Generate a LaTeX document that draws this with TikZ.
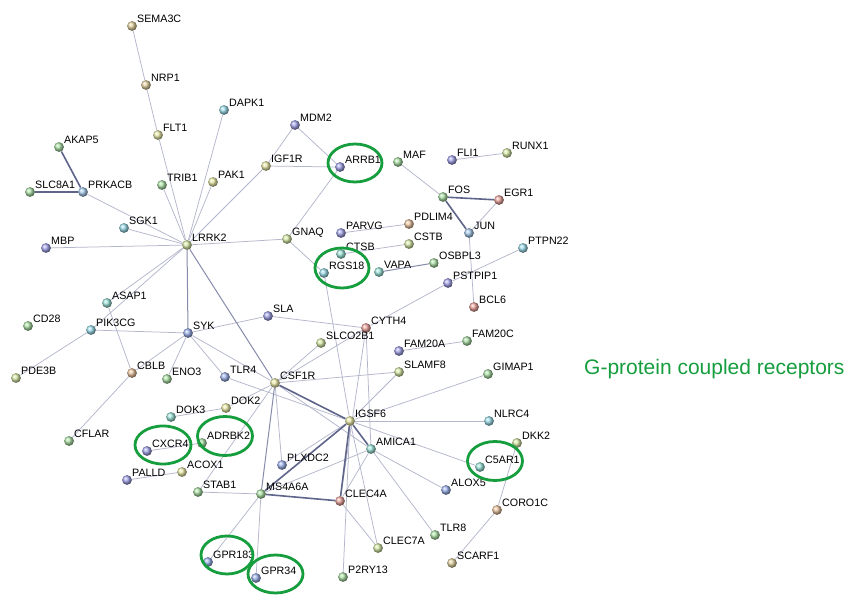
\documentclass[tikz,border=0pt]{standalone}
\usepackage{fontspec}
\setmainfont{Liberation Sans}
\usetikzlibrary{shapes.geometric,calc}
\pgfdeclarelayer{paper}
\pgfdeclarelayer{bg}
\pgfsetlayers{paper,bg,main}
\definecolor{edgeL}{RGB}{180,183,204}
\definecolor{edgeM}{RGB}{135,140,172}
\definecolor{edgeD}{RGB}{95,100,138}
\definecolor{gpcrg}{RGB}{22,158,62}
\definecolor{cTan}{RGB}{226,210,160}
\definecolor{cYel}{RGB}{232,232,168}
\definecolor{cYG}{RGB}{214,232,166}
\definecolor{cGrn}{RGB}{172,224,166}
\definecolor{cTeal}{RGB}{156,226,216}
\definecolor{cCyan}{RGB}{156,220,234}
\definecolor{cBlue}{RGB}{156,178,234}
\definecolor{cPur}{RGB}{164,164,234}
\definecolor{cSal}{RGB}{234,164,156}
\definecolor{cOra}{RGB}{234,196,160}
\definecolor{cLB}{RGB}{166,202,236}
\newcommand\genenode[4]{%
  \node[gball, ball color=#4] (#1) at (#2,#3) {};
  \node[glabel] (#1-t) at (#2+5,#3-3.5) {#1};}
\begin{document}
\begin{tikzpicture}[x=1pt,y=-1pt,
  gball/.style={circle, inner sep=0pt, minimum size=9.8pt},
  glabel/.style={anchor=base west, inner sep=0pt, font=\fontsize{10.7}{12}\selectfont},
  ethin/.style={draw=edgeL, line width=0.75pt},
  emed/.style={draw=edgeM, line width=1.0pt},
  ethick/.style={draw=edgeD, line width=1.6pt},
  ring/.style={draw=gpcrg, line width=2.8pt, ellipse, inner sep=0pt}]
\begin{pgfonlayer}{paper}
\fill[white] (0,0) rectangle (852,596);
\end{pgfonlayer}
\useasboundingbox (0,0) rectangle (852,596);

\genenode{SEMA3C}{132}{26}{cTan}
\genenode{NRP1}{146}{85}{cTan}
\genenode{DAPK1}{224}{110}{cCyan}
\genenode{FLT1}{158}{135}{cYel}
\genenode{AKAP5}{59}{147}{cGrn}
\genenode{IGF1R}{266}{166}{cYel}
\genenode{TRIB1}{162}{185}{cGrn}
\genenode{PAK1}{213}{182}{cYel}
\genenode{SLC8A1}{30}{192}{cGrn}
\genenode{PRKACB}{83}{192}{cLB}
\genenode{MDM2}{295}{125}{cPur}
\genenode{ARRB1}{340}{167}{cPur}
\genenode{MAF}{398}{162}{cGrn}
\genenode{FLI1}{452}{160}{cPur}
\genenode{RUNX1}{507}{153}{cYG}
\genenode{FOS}{443}{197}{cGrn}
\genenode{EGR1}{499}{200}{cSal}
\genenode{SGK1}{124}{228}{cCyan}
\genenode{LRRK2}{187}{245}{cYG}
\genenode{MBP}{46}{248}{cPur}
\genenode{GNAQ}{287}{239}{cYG}
\genenode{PDLIM4}{409}{224}{cOra}
\genenode{PARVG}{341}{233}{cPur}
\genenode{JUN}{469}{233}{cLB}
\genenode{CSTB}{409}{244}{cYG}
\genenode{CTSB}{341}{254}{cTeal}
\genenode{PTPN22}{523}{248}{cCyan}
\genenode{RGS18}{324}{273}{cCyan}
\genenode{VAPA}{379}{272}{cTeal}
\genenode{OSBPL3}{434}{263}{cGrn}
\genenode{PSTPIP1}{448}{283}{cPur}
\genenode{BCL6}{474}{307}{cSal}
\genenode{ASAP1}{107}{303}{cTeal}
\genenode{CD28}{28}{326}{cGrn}
\genenode{PIK3CG}{91}{330}{cCyan}
\genenode{SYK}{188}{333}{cBlue}
\genenode{SLA}{268}{316}{cPur}
\genenode{CYTH4}{366}{328}{cSal}
\genenode{SLCO2B1}{321}{343}{cYG}
\genenode{FAM20C}{467}{341}{cGrn}
\genenode{FAM20A}{399}{351}{cPur}
\genenode{CBLB}{132}{373}{cOra}
\genenode{ENO3}{167}{379}{cGrn}
\genenode{TLR4}{225}{377}{cBlue}
\genenode{PDE3B}{16}{378}{cYG}
\genenode{SLAMF8}{399}{372}{cYG}
\genenode{GIMAP1}{488}{374}{cGrn}
\genenode{CSF1R}{275}{383}{cYel}
\genenode{DOK2}{226}{408}{cYel}
\genenode{DOK3}{171}{417}{cTeal}
\genenode{IGSF6}{350}{421}{cYel}
\genenode{NLRC4}{489}{421}{cCyan}
\genenode{CFLAR}{69}{441}{cGrn}
\genenode{ADRBK2}{202}{443}{cGrn}
\genenode{DKK2}{517}{443}{cYG}
\genenode{AMICA1}{371}{449}{cTeal}
\genenode{CXCR4}{147}{451}{cPur}
\genenode{PLXDC2}{282}{465}{cBlue}
\genenode{C5AR1}{480}{467}{cTeal}
\genenode{ACOX1}{182}{472}{cYel}
\genenode{PALLD}{127}{480}{cPur}
\genenode{ALOX5}{446}{490}{cBlue}
\genenode{STAB1}{198}{492}{cGrn}
\genenode{MS4A6A}{261}{494}{cGrn}
\genenode{CLEC4A}{340}{501}{cSal}
\genenode{CORO1C}{497}{510}{cOra}
\genenode{TLR8}{435}{535}{cGrn}
\genenode{CLEC7A}{378}{548}{cYG}
\genenode{GPR183}{208}{562}{cBlue}
\genenode{SCARF1}{452}{563}{cTan}
\genenode{P2RY13}{343}{577}{cGrn}
\genenode{GPR34}{256}{578}{cBlue}

\begin{pgfonlayer}{bg}
\foreach \a/\b in {SEMA3C/NRP1, NRP1/FLT1, FLT1/LRRK2, DAPK1/LRRK2, PRKACB/LRRK2,
  SGK1/LRRK2, TRIB1/LRRK2, PAK1/LRRK2, IGF1R/LRRK2, IGF1R/MDM2, IGF1R/ARRB1,
  MDM2/ARRB1, ARRB1/GNAQ, MBP/LRRK2, GNAQ/LRRK2, GNAQ/RGS18, LRRK2/ASAP1,
  LRRK2/PIK3CG, PIK3CG/SYK, PIK3CG/PDE3B, ASAP1/CBLB, CBLB/CFLAR, SYK/SLA,
  SYK/CBLB, SYK/ENO3, SYK/TLR4, SYK/CSF1R, SLA/CYTH4, CYTH4/PSTPIP1,
  PSTPIP1/PTPN22, CYTH4/CSF1R, SLCO2B1/CSF1R, CYTH4/CLEC4A, CYTH4/AMICA1,
  RGS18/IGSF6, PARVG/PDLIM4, CTSB/CSTB, MAF/FOS, JUN/EGR1, JUN/BCL6,
  FLI1/RUNX1, FAM20A/FAM20C, SLAMF8/CSF1R, SLAMF8/IGSF6, GIMAP1/IGSF6,
  TLR4/IGSF6, DOK3/DOK2, DOK2/CSF1R, STAB1/CSF1R, CXCR4/ADRBK2, PALLD/ACOX1,
  STAB1/MS4A6A, MS4A6A/AMICA1, MS4A6A/GPR183, MS4A6A/GPR34, CSF1R/PLXDC2,
  PLXDC2/IGSF6, CSF1R/AMICA1, AMICA1/CLEC4A, IGSF6/CLEC7A, IGSF6/P2RY13,
  IGSF6/NLRC4, IGSF6/C5AR1, AMICA1/ALOX5, AMICA1/TLR8, CLEC4A/CLEC7A,
  DKK2/CORO1C, CORO1C/SCARF1}
  \draw[ethin] (\a) -- (\b);
\foreach \a/\b in {LRRK2/SYK, LRRK2/CSF1R, VAPA/OSBPL3, MS4A6A/CSF1R}
  \draw[emed] (\a) -- (\b);
\foreach \a/\b in {AKAP5/PRKACB, SLC8A1/PRKACB, FOS/EGR1, FOS/JUN, CSF1R/IGSF6,
  IGSF6/AMICA1, IGSF6/MS4A6A, IGSF6/CLEC4A, MS4A6A/CLEC4A}
  \draw[ethick] (\a) -- (\b);
\end{pgfonlayer}

\node[ring, minimum width=54pt, minimum height=38pt] (rARRB1) at (355,163) {};
\node[ring, minimum width=54pt, minimum height=40pt] (rRGS18) at (342,268) {};
\node[ring, minimum width=56pt, minimum height=38pt] (rCXCR4) at (163,445) {};
\node[ring, minimum width=55pt, minimum height=39pt] (rADRBK2) at (225,436) {};
\node[ring, minimum width=52pt, minimum height=38pt] (rGPR183) at (227,555) {};
\node[ring, minimum width=55pt, minimum height=38pt] (rGPR34) at (275.5,574) {};
\node[ring, minimum width=55pt, minimum height=39pt] (rC5AR1) at (495,461) {};

\node[anchor=base west, inner sep=0pt, text=gpcrg, font=\fontsize{21}{25}\selectfont] (gpcr) at (584,374) {G-protein coupled receptors};
\end{tikzpicture}
\end{document}
